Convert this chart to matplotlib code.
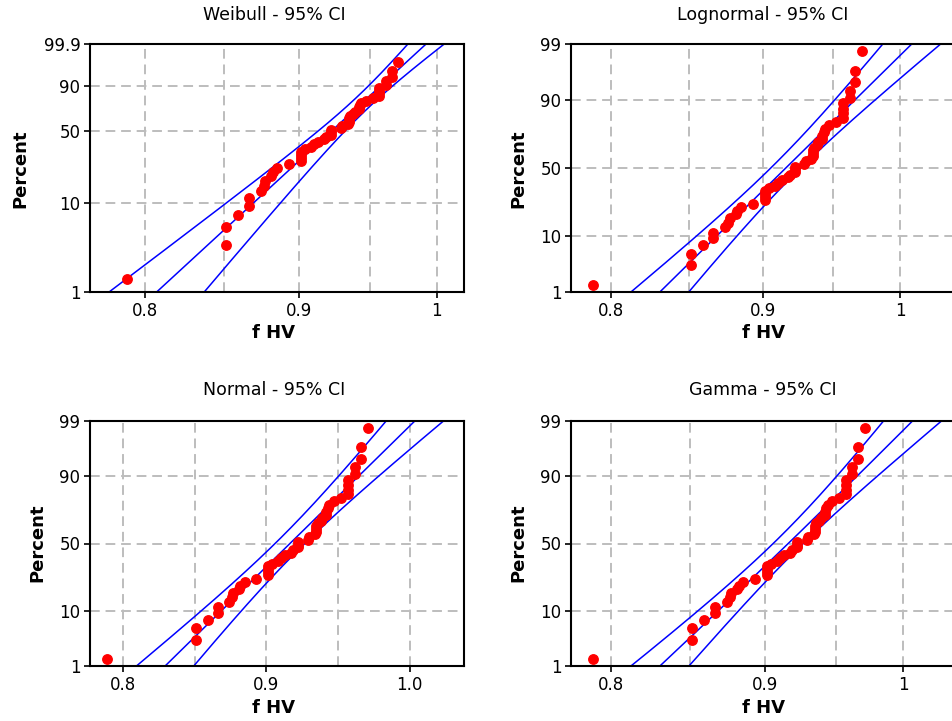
from statistics import NormalDist

import matplotlib.pyplot as plt
import numpy as np
from matplotlib.ticker import NullLocator

# f HV sample (sorted, n = 50)
f_hv = np.array([
    0.789, 0.851, 0.851, 0.859, 0.866, 0.866, 0.874, 0.876, 0.877, 0.881,
    0.882, 0.885, 0.893, 0.901, 0.901, 0.901, 0.901, 0.904, 0.908, 0.910,
    0.913, 0.917, 0.919, 0.922, 0.922, 0.922, 0.929, 0.930, 0.934, 0.935,
    0.935, 0.935, 0.936, 0.938, 0.939, 0.942, 0.942, 0.943, 0.944, 0.947,
    0.952, 0.957, 0.957, 0.957, 0.957, 0.962, 0.962, 0.966, 0.966, 0.971,
])

dists = ["Weibull", "Lognormal", "Normal", "Gamma"]
titles = [f"{d} - 95% CI" for d in dists]
pct_ticks = {"Weibull": [1, 10, 50, 90, 99.9]}
pct_ticks_default = [1, 10, 50, 90, 99]
pct_grid = [10, 50, 90]
x_ticks = [0.8, 0.9, 1.0]
x_tick_labels = {
    "Weibull": ["0.8", "0.9", "1"],
    "Lognormal": ["0.8", "0.9", "1"],
    "Normal": ["0.8", "0.9", "1.0"],
    "Gamma": ["0.8", "0.9", "1"],
}
x_grid = [0.8, 0.85, 0.9, 0.95, 1.0]
x_limits = {
    "Weibull": (0.767, 1.021),
    "Lognormal": (0.776, 1.049),
    "Normal": (0.777, 1.038),
    "Gamma": (0.776, 1.046),
}

Z95 = 1.959964
_nd = NormalDist()
ppf = np.vectorize(_nd.inv_cdf, otypes=[float])
cdf = np.vectorize(_nd.cdf, otypes=[float])


def norm_fwd(p):
    q = np.clip(np.asarray(p, dtype=float) / 100, 1e-10, 1 - 1e-10)
    return ppf(q)


def norm_inv(z):
    return 100 * cdf(np.asarray(z, dtype=float))


def sev_fwd(p):
    q = np.clip(np.asarray(p, dtype=float) / 100, 1e-10, 1 - 1e-10)
    return np.log(-np.log1p(-q))


def sev_inv(w):
    return 100 * -np.expm1(-np.exp(np.asarray(w, dtype=float)))


def weibull_fit(x):
    """MLE on log scale (smallest extreme value), with observed-information covariance."""
    y = np.log(x)

    def g(b):
        e = np.exp((y - y.max()) / b)
        return (y * e).sum() / e.sum() - b - y.mean()

    lo, hi = 1e-4, 1.0
    for _ in range(200):
        mid = 0.5 * (lo + hi)
        if g(mid) > 0:
            lo = mid
        else:
            hi = mid
    b = 0.5 * (lo + hi)
    u = y.max() + b * np.log(np.mean(np.exp((y - y.max()) / b)))
    z = (y - u) / b
    ez = np.exp(z)
    i_ub = (ez - 1 + z * ez).sum()
    info = np.array([
        [ez.sum(), i_ub],
        [i_ub, (-1 - 2 * z + 2 * z * ez + z * z * ez).sum()],
    ]) / b ** 2
    return u, b, np.linalg.inv(info)


def fit_curves(name, x):
    n = len(x)
    if name == "Weibull":
        u, b, cov = weibull_fit(x)
        w = np.linspace(-5.5, 2.3, 300)
        mid = u + b * w
        se = np.sqrt(cov[0, 0] + w ** 2 * cov[1, 1] + 2 * w * cov[0, 1])
        return sev_inv(w), np.exp(mid), np.exp(mid - Z95 * se), np.exp(mid + Z95 * se)

    z = np.linspace(-3.0, 3.0, 300)
    p = norm_inv(z)
    if name == "Normal":
        m, s = x.mean(), x.std()
        mid = m + s * z
        se = s * np.sqrt(1 / n + z ** 2 / (2 * n))
        return p, mid, mid - Z95 * se, mid + Z95 * se
    if name == "Lognormal":
        y = np.log(x)
        m, s = y.mean(), y.std()
        mid = m + s * z
        se = s * np.sqrt(1 / n + z ** 2 / (2 * n))
        return p, np.exp(mid), np.exp(mid - Z95 * se), np.exp(mid + Z95 * se)

    # gamma: shape from the large-shape expansion of ln k - digamma(k), Wilson-Hilferty quantiles
    s_stat = np.log(x.mean()) - np.log(x).mean()
    k = (1 + np.sqrt(1 + 4 * s_stat / 3)) / (4 * s_stat)
    theta = x.mean() / k
    mid = k * theta * (1 - 1 / (9 * k) + z / (3 * np.sqrt(k))) ** 3
    se = np.sqrt((1 / k) * (1 / n + z ** 2 / (2 * n)))
    return p, mid, mid * np.exp(-Z95 * se), mid * np.exp(Z95 * se)


n = len(f_hv)
ranks = np.arange(1, n + 1)
plot_pct = 100 * (ranks - 0.3) / (n + 0.4)

W, H = 953, 721
fig = plt.figure(figsize=(W / 100, H / 100), dpi=100)

# pixel boxes: left, top, right, bottom
boxes = {
    "Weibull": (90, 44, 464, 292),
    "Lognormal": (571, 44, 962, 292),
    "Normal": (90, 421, 464, 666),
    "Gamma": (571, 421, 962, 666),
}
title_pos = {"Weibull": (274, 15), "Lognormal": (763, 15), "Normal": (274, 390), "Gamma": (763, 390)}
ylabel_pos = {"Weibull": (20, 169), "Lognormal": (518, 169), "Normal": (37, 543), "Gamma": (518, 543)}
xlabel_pos = {"Weibull": (274, 333), "Lognormal": (763, 333), "Normal": (274, 708), "Gamma": (763, 708)}

grid_kw = dict(color="#bdbdbd", lw=1.4, dashes=(5, 3), zorder=0)
line_kw = dict(color="#0000ff", lw=1.1, zorder=2)

for name, title in zip(dists, titles):
    left, top, right, bottom = boxes[name]
    ax = fig.add_axes([left / W, 1 - bottom / H, (right - left) / W, (bottom - top) / H])

    if name == "Weibull":
        ax.set_yscale("function", functions=(sev_fwd, sev_inv))
        yt = pct_ticks["Weibull"]
    else:
        ax.set_yscale("function", functions=(norm_fwd, norm_inv))
        yt = pct_ticks_default
    if name != "Normal":
        ax.set_xscale("log")

    for gx in x_grid:
        ax.axvline(gx, **grid_kw)
    for gy in pct_grid:
        ax.axhline(gy, **grid_kw)

    p, mid, lo, hi = fit_curves(name, f_hv)
    ax.plot(mid, p, **line_kw)
    ax.plot(lo, p, **line_kw)
    ax.plot(hi, p, **line_kw)

    ax.plot(f_hv, plot_pct, "o", color="#ff0000", ms=6.8, mec="#ff0000", zorder=3)

    ax.set_xlim(*x_limits[name])
    ax.set_ylim(yt[0], yt[-1])
    ax.set_xticks(x_ticks)
    ax.set_xticklabels(x_tick_labels[name])
    ax.set_yticks(yt)
    ax.set_yticklabels([f"{t:g}" for t in yt])
    ax.xaxis.set_minor_locator(NullLocator())
    ax.yaxis.set_minor_locator(NullLocator())
    ax.tick_params(direction="out", length=4, width=1.2, labelsize=12, pad=3)
    for sp in ax.spines.values():
        sp.set_linewidth(1.5)

    tx, ty = title_pos[name]
    fig.text(tx / W, 1 - ty / H, title, ha="center", va="center", fontsize=12.5)
    lx, ly = ylabel_pos[name]
    fig.text(lx / W, 1 - ly / H, "Percent", ha="center", va="center",
             rotation=90, fontsize=13, fontweight="bold")
    bx, by = xlabel_pos[name]
    fig.text(bx / W, 1 - by / H, "f HV", ha="center", va="center",
             fontsize=13, fontweight="bold")

fig.savefig("out.png", dpi=100, facecolor="white")
plt.close(fig)
